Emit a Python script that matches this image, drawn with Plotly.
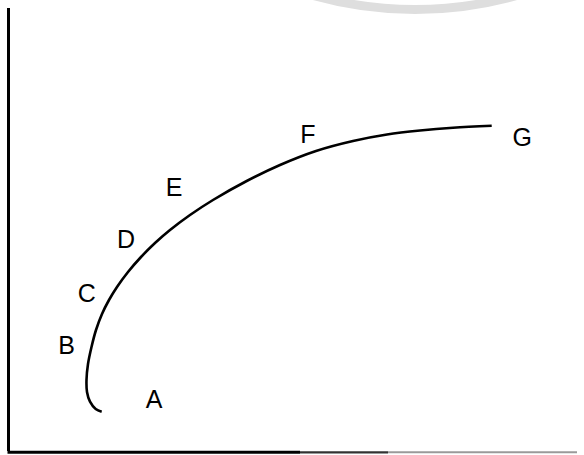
import plotly.graph_objects as go

# curve (arbitrary units)
curve_x = [91.7, 85.7, 80, 77, 76.5, 78, 81.5, 86, 92, 99, 107, 118, 131, 145, 160, 180, 203, 236.7, 270, 306, 343, 377, 410, 443, 481.7]
curve_y = [18.3, 21, 28.3, 38, 50, 66, 83, 100, 116, 130, 143, 158, 173, 187, 200, 215, 230, 249, 265, 279, 289, 295.5, 299.5, 302.3, 304.3]

label_text = ["A", "B", "C", "D", "E", "F", "G"]
label_x = [144, 56.7, 76.7, 116, 164, 298, 512.3]
label_y = [28, 82, 134.3, 188.3, 240, 293.3, 290.7]

W, H = 584, 455
L, R, T, B = 10, 9, 8, 4
pw, ph = W - L - R, H - T - B


def px(x):
    return (x - L) / pw


def py(y):
    return (H - B - y) / ph


fig = go.Figure()
fig.add_trace(go.Scatter(x=curve_x, y=curve_y, mode="lines",
                         line=dict(color="black", width=2.6, shape="spline", smoothing=1),
                         hoverinfo="skip", showlegend=False))
fig.add_trace(go.Scatter(x=label_x, y=label_y, mode="text", text=label_text,
                         textfont=dict(family="Liberation Sans, Arial, sans-serif", size=25, color="black"),
                         textposition="middle center", showlegend=False))

# faint watermark arc at top
cx, r, bottom = 415, 374, 9.5
fig.add_shape(type="circle", xref="paper", yref="paper",
              x0=px(cx - r), x1=px(cx + r), y0=py(bottom), y1=py(bottom - 2 * r),
              line=dict(color="#dedede", width=9), layer="below")

# bottom axis line (scanned: black then greyish)
yb = py(452.3)
fig.add_shape(type="line", xref="paper", yref="paper", x0=px(7.5), x1=px(300), y0=yb, y1=yb,
              line=dict(color="black", width=3))
fig.add_shape(type="line", xref="paper", yref="paper", x0=px(300), x1=px(388), y0=yb, y1=yb,
              line=dict(color="#333333", width=2.2))
fig.add_shape(type="line", xref="paper", yref="paper", x0=px(388), x1=px(577), y0=yb, y1=yb,
              line=dict(color="#9a9a9a", width=2))

fig.update_xaxes(range=[0, 565], showline=False,
                 showgrid=False, zeroline=False, showticklabels=False, ticks="")
fig.update_yaxes(range=[-21, 422], showline=True, linecolor="black", linewidth=2.8,
                 showgrid=False, zeroline=False, showticklabels=False, ticks="")
fig.update_layout(width=W, height=H, margin=dict(l=L, r=R, t=T, b=B),
                  plot_bgcolor="white", paper_bgcolor="white")
fig.write_html("out.html", config={"displayModeBar": False},
               post_script="document.body.style.margin='0';")
